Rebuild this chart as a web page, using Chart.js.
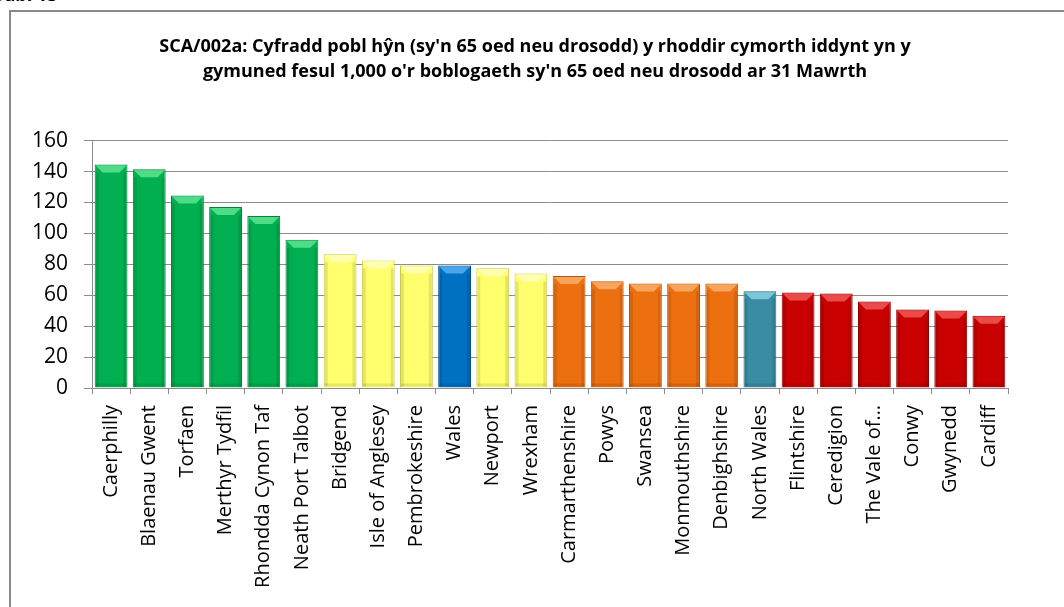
<!DOCTYPE html>
<html lang="cy">
<head>
<meta charset="utf-8">
<title>SCA/002a</title>
<script src="https://cdn.jsdelivr.net/npm/chart.js@4/dist/chart.umd.min.js"></script>
<style>
  html, body { margin: 0; padding: 0; background: #fff; overflow: hidden; }
  body { width: 1064px; height: 607px; position: relative; }
  #tab {
    position: absolute; left: -6px; top: -18px;
    font: bold 18px 'Open Sans', sans-serif; color: #000;
  }
  #frame {
    position: absolute; left: 9px; top: 10px; width: 1100px; height: 700px;
    border: 2px solid #8a8a8a; box-sizing: border-box;
  }
  #wrap { position: absolute; left: 12px; top: 13px; width: 1046px; height: 594px; }
</style>
</head>
<body>
<div id="tab">Tabl 13</div>
<div id="frame"></div>
<div id="wrap"><canvas id="chart"></canvas></div>

<script>
/* ------------------------------------------
   DATA
   ------------------------------------------ */
var titleLines = [
  "SCA/002a: Cyfradd pobl hŷn (sy'n 65 oed neu drosodd) y rhoddir cymorth iddynt yn y",
  "gymuned fesul 1,000 o'r boblogaeth sy'n 65 oed neu drosodd ar 31 Mawrth"
];

var areas = [
  'Caerphilly', 'Blaenau Gwent', 'Torfaen', 'Merthyr Tydfil', 'Rhondda Cynon Taf',
  'Neath Port Talbot', 'Bridgend', 'Isle of Anglesey', 'Pembrokeshire', 'Wales',
  'Newport', 'Wrexham', 'Carmarthenshire', 'Powys', 'Swansea', 'Monmouthshire',
  'Denbighshire', 'North Wales', 'Flintshire', 'Ceredigion', 'The Vale of…',
  'Conwy', 'Gwynedd', 'Cardiff'
];

var rates = [
  144.6, 141.4, 124.5, 117.0, 111.3,
  95.8, 86.5, 82.5, 79.3, 79.3,
  77.4, 74.0, 72.5, 69.1, 67.6, 67.6,
  67.6, 62.6, 61.7, 61.1, 55.9,
  50.7, 50.1, 46.8
];

// colour band for each bar
var bands = [
  'green', 'green', 'green', 'green', 'green',
  'green', 'yellow', 'yellow', 'yellow', 'wales',
  'yellow', 'yellow', 'orange', 'orange', 'orange', 'orange',
  'orange', 'north', 'red', 'red', 'red',
  'red', 'red', 'red'
];

var yTicks = [0, 20, 40, 60, 80, 100, 120, 140, 160];

(function () {
  'use strict';

  var palette = {
    green:  { fill: '#00b050', edge: '#00843a', light: '#4fdc86' },
    yellow: { fill: '#ffff6e', edge: '#c9c94a', light: '#ffffb0' },
    wales:  { fill: '#0070c0', edge: '#004f8a', light: '#4aa6ea' },
    orange: { fill: '#ed7010', edge: '#b3530a', light: '#f7a55c' },
    north:  { fill: '#3a8ca3', edge: '#276678', light: '#7cc6da' },
    red:    { fill: '#c80000', edge: '#8e0000', light: '#ea4a4a' }
  };

  var FONT = "'Open Sans', sans-serif";
  var GRID = '#8c8c8c';

  /* ------------------------------------------
     BEVEL — lighter top edge on each bar
     ------------------------------------------ */
  var bevel = {
    id: 'bevel',
    afterDatasetsDraw: function (chart) {
      var ctx = chart.ctx;
      var meta = chart.getDatasetMeta(0);
      meta.data.forEach(function (bar, i) {
        var p = bar.getProps(['x', 'y', 'width', 'base'], true);
        var c = palette[bands[i]];
        var l = p.x - p.width / 2 + 1, r = p.x + p.width / 2 - 1;
        var t = p.y + 1, b = 7;
        ctx.save();
        ctx.fillStyle = c.light;
        ctx.beginPath();
        ctx.moveTo(l, t);
        ctx.lineTo(r, t);
        ctx.lineTo(r - b, t + b);
        ctx.lineTo(l + b, t + b);
        ctx.closePath();
        ctx.fill();
        // soft dark sides
        ctx.globalAlpha = 0.1;
        ctx.fillStyle = '#000';
        ctx.fillRect(l, t + b, 3, p.base - t - b - 1);
        ctx.fillRect(r - 3, t + b, 3, p.base - t - b - 1);
        ctx.fillRect(l, p.base - 4, r - l, 3);
        ctx.restore();
      });
    }
  };

  /* ------------------------------------------
     CHART
     ------------------------------------------ */
  new Chart(document.getElementById('chart'), {
    type: 'bar',
    data: {
      labels: areas,
      datasets: [{
        data: rates,
        backgroundColor: bands.map(function (k) { return palette[k].fill; }),
        borderColor: bands.map(function (k) { return palette[k].edge; }),
        borderWidth: 1,
        categoryPercentage: 1,
        barPercentage: 0.86
      }]
    },
    options: {
      responsive: true,
      maintainAspectRatio: false,
      animation: false,
      plugins: {
        legend: { display: false },
        tooltip: { enabled: false },
        title: {
          display: true,
          text: titleLines,
          color: '#000',
          font: { family: FONT, size: 18, weight: 'bold', lineHeight: 1.35 },
          padding: { top: 22, bottom: 57 }
        }
      },
      scales: {
        x: {
          offset: true,
          grid: {
            display: true,
            offset: true,
            drawOnChartArea: false,
            drawTicks: true,
            tickLength: 6,
            color: GRID
          },
          border: { color: GRID, width: 1 },
          ticks: {
            autoSkip: false,
            minRotation: 90,
            maxRotation: 90,
            padding: 11,
            color: '#000',
            font: { family: FONT, size: 20 }
          },
          afterFit: function (scale) { scale.height = 219; }
        },
        y: {
          min: 0,
          max: 160,
          afterBuildTicks: function (scale) {
            scale.ticks = yTicks.map(function (v) { return { value: v }; });
          },
          grid: {
            color: GRID,
            lineWidth: 1,
            drawTicks: true,
            tickLength: 8
          },
          border: { color: GRID, width: 1 },
          ticks: {
            padding: 16,
            color: '#000',
            font: { family: FONT, size: 21 }
          },
          afterFit: function (scale) { scale.width = 80; }
        },
        // empty right-hand gutter so the title stays centred on the frame
        gutter: {
          type: 'linear',
          position: 'right',
          display: true,
          grid: { display: false },
          border: { display: false },
          ticks: { display: false },
          afterFit: function (scale) { scale.width = 50; }
        }
      }
    },
    plugins: [bevel]
  });
})();
</script>
</body>
</html>
